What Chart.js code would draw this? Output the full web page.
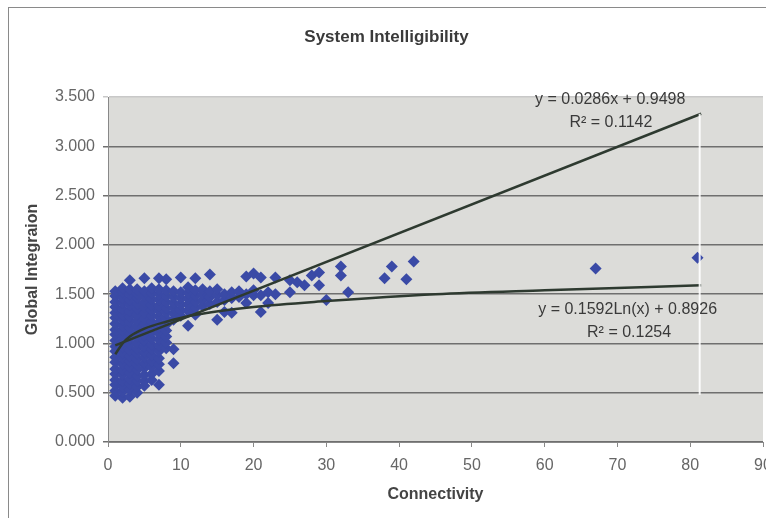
<!DOCTYPE html>
<html lang="en">
<head>
    <meta charset="UTF-8">
    <title>System Intelligibility</title>
    <style>
        body {
            margin: 0;
            padding: 0;
            background-color: #fff;
            overflow: hidden;
            width: 766px;
            height: 518px;
        }
        #chart-wrap {
            width: 790px;
            height: 518px;
        }
    </style>
</head>
<body>

<div id="chart-wrap">
    <canvas id="siChart" width="790" height="518"></canvas>
</div>

<script src="https://cdn.jsdelivr.net/npm/chart.js"></script>
<script>
// connectivity values (x) and the global integration readings (y) at each one
const connectivity = [1, 2, 3, 4, 5, 6, 7, 8, 9, 10, 11, 12, 13, 14, 15, 16, 17, 18, 19, 20,
    21, 22, 23, 25, 26, 27, 28, 29, 30, 32, 33, 38, 39, 41, 42, 67, 81];
const integration = [
    [0.47, 0.52, 0.58, 0.63, 0.69, 0.74, 0.81, 0.86, 0.92, 0.97, 1.03, 1.09, 1.14, 1.20, 1.26, 1.31, 1.37, 1.42, 1.48, 1.53],
    [0.45, 0.51, 0.56, 0.62, 0.68, 0.73, 0.79, 0.85, 0.90, 0.96, 1.01, 1.07, 1.13, 1.18, 1.24, 1.29, 1.35, 1.41, 1.46, 1.52, 1.56],
    [0.46, 0.53, 0.59, 0.64, 0.70, 0.76, 0.82, 0.87, 0.93, 0.99, 1.05, 1.10, 1.16, 1.22, 1.27, 1.33, 1.39, 1.44, 1.50, 1.55, 1.64],
    [0.50, 0.56, 0.62, 0.67, 0.73, 0.79, 0.84, 0.90, 0.95, 1.01, 1.07, 1.12, 1.18, 1.23, 1.29, 1.35, 1.40, 1.46, 1.51, 1.55],
    [0.57, 0.62, 0.68, 0.75, 0.80, 0.86, 0.91, 0.97, 1.03, 1.08, 1.14, 1.20, 1.25, 1.31, 1.37, 1.42, 1.48, 1.53, 1.66],
    [0.63, 0.69, 0.76, 0.82, 0.88, 0.94, 0.99, 1.05, 1.11, 1.17, 1.22, 1.28, 1.34, 1.39, 1.45, 1.51, 1.56],
    [0.58, 0.72, 0.79, 0.85, 0.92, 0.98, 1.04, 1.10, 1.16, 1.21, 1.27, 1.33, 1.38, 1.44, 1.50, 1.55, 1.66],
    [0.95, 1.01, 1.07, 1.13, 1.19, 1.25, 1.31, 1.36, 1.42, 1.48, 1.54, 1.65],
    [0.80, 0.94, 1.24, 1.30, 1.36, 1.41, 1.47, 1.53],
    [1.28, 1.34, 1.40, 1.46, 1.52, 1.67],
    [1.18, 1.33, 1.39, 1.45, 1.51, 1.57],
    [1.29, 1.36, 1.42, 1.48, 1.54, 1.66],
    [1.38, 1.44, 1.50, 1.55],
    [1.40, 1.47, 1.53, 1.70],
    [1.24, 1.42, 1.49, 1.55],
    [1.32, 1.44, 1.50],
    [1.31, 1.46, 1.52],
    [1.47, 1.53],
    [1.41, 1.50, 1.68],
    [1.49, 1.54, 1.71],
    [1.32, 1.49, 1.67],
    [1.41, 1.52],
    [1.50, 1.67],
    [1.64, 1.52],
    [1.62],
    [1.59],
    [1.69],
    [1.72, 1.59],
    [1.44],
    [1.78, 1.69],
    [1.52],
    [1.66],
    [1.78],
    [1.65],
    [1.83],
    [1.76],
    [1.87]
];

// trend lines
const linearX = [1, 81.5];
const linearY = [0.98, 3.33];
const logX = [1, 2, 3, 5, 8, 12, 20, 30, 45, 60, 81.5];
const logY = [0.89, 1.00, 1.07, 1.15, 1.22, 1.29, 1.37, 1.43, 1.50, 1.54, 1.59];

const xTicks = [0, 10, 20, 30, 40, 50, 60, 70, 80, 90];
const yTicks = [0, 0.5, 1.0, 1.5, 2.0, 2.5, 3.0, 3.5];

// trendline labels: text and where they sit (data units)
const labelTexts = ['y = 0.0286x + 0.9498', 'R\u00B2 = 0.1142', 'y = 0.1592Ln(x) + 0.8926', 'R\u00B2 = 0.1254'];
const labelX = [69.0, 69.1, 71.4, 71.6];
const labelY = [3.47, 3.24, 1.34, 1.105];

const scatterPoints = [];
connectivity.forEach((c, i) => {
    integration[i].forEach(v => scatterPoints.push({ x: c, y: v }));
});

const toPoints = (xs, ys) => xs.map((x, i) => ({ x: x, y: ys[i] }));

const FONT = '"Liberation Sans", Arial, sans-serif';

const frameAndLabels = {
    id: 'frameAndLabels',
    beforeDraw(chart) {
        const ctx = chart.ctx;
        const a = chart.chartArea;
        ctx.save();
        ctx.fillStyle = '#fff';
        ctx.fillRect(0, 0, chart.width, chart.height);
        ctx.strokeStyle = '#8a8a8a';
        ctx.lineWidth = 1;
        ctx.strokeRect(8.5, 7.5, chart.width + 20, chart.height + 20);
        ctx.fillStyle = '#dcdcd9';
        ctx.fillRect(a.left, a.top, a.right - a.left, a.bottom - a.top);
        ctx.restore();
    },
    afterDatasetsDraw(chart) {
        const ctx = chart.ctx;
        const xs = chart.scales.x;
        const ys = chart.scales.y;
        ctx.save();
        // light streak near the end of the trend lines
        ctx.strokeStyle = 'rgba(255,255,255,0.9)';
        ctx.lineWidth = 2;
        ctx.beginPath();
        ctx.moveTo(xs.getPixelForValue(81.3), ys.getPixelForValue(3.33));
        ctx.lineTo(xs.getPixelForValue(81.3), ys.getPixelForValue(0.48));
        ctx.stroke();

        ctx.fillStyle = '#3a3a3a';
        ctx.font = '16px ' + FONT;
        ctx.textAlign = 'center';
        ctx.textBaseline = 'middle';
        labelTexts.forEach((t, i) => {
            ctx.fillText(t, xs.getPixelForValue(labelX[i]), ys.getPixelForValue(labelY[i]));
        });
        ctx.restore();
    }
};

const ctx = document.getElementById('siChart').getContext('2d');
new Chart(ctx, {
    type: 'scatter',
    data: {
        datasets: [
            {
                label: 'Global Integration',
                data: scatterPoints,
                pointStyle: 'rectRot',
                pointRadius: 6,
                pointBackgroundColor: '#3a4aa6',
                pointBorderWidth: 0,
                order: 2,
            },
            {
                label: 'Linear',
                type: 'line',
                data: toPoints(linearX, linearY),
                borderColor: '#2e3a30',
                borderWidth: 2.5,
                pointRadius: 0,
                fill: false,
                order: 1,
            },
            {
                label: 'Log',
                type: 'line',
                data: toPoints(logX, logY),
                borderColor: '#2e3a30',
                borderWidth: 2.5,
                pointRadius: 0,
                cubicInterpolationMode: 'monotone',
                fill: false,
                order: 1,
            },
        ],
    },
    options: {
        responsive: false,
        animation: false,
        layout: {
            padding: { left: 10, right: 27, top: 0, bottom: 0 },
        },
        plugins: {
            legend: { display: false },
            tooltip: { enabled: false },
            title: {
                display: true,
                text: 'System Intelligibility',
                color: '#3a3a3a',
                font: { family: FONT, size: 17, weight: 'bold' },
                padding: { top: 27, bottom: 49.6 },
            },
        },
        scales: {
            x: {
                type: 'linear',
                min: 0,
                max: 90,
                afterBuildTicks: scale => { scale.ticks = xTicks.map(v => ({ value: v })); },
                afterFit: scale => { scale.height = 76; },
                ticks: {
                    color: '#666',
                    padding: 9,
                    font: { family: FONT, size: 16 },
                },
                grid: {
                    drawOnChartArea: false,
                    drawTicks: true,
                    tickLength: 5,
                    color: '#888',
                },
                border: { color: '#888', width: 1 },
                title: {
                    display: true,
                    text: 'Connectivity',
                    color: '#444',
                    font: { family: FONT, size: 16, weight: 'bold' },
                    padding: { top: 0, bottom: 14 },
                },
            },
            y: {
                min: 0,
                max: 3.5,
                afterBuildTicks: scale => { scale.ticks = yTicks.map(v => ({ value: v })); },
                afterFit: scale => { scale.width = 98; },
                ticks: {
                    color: '#666',
                    padding: 8,
                    font: { family: FONT, size: 16 },
                    callback: v => Number(v).toFixed(3),
                },
                grid: {
                    color: c => (c.tick && c.tick.value === 3.5 ? '#c8c8c8' : '#6f6f6f'),
                    lineWidth: 1.5,
                    tickLength: 5,
                },
                border: { color: '#888', width: 1 },
                title: {
                    display: true,
                    text: 'Global Integraion',
                    color: '#444',
                    font: { family: FONT, size: 16, weight: 'bold' },
                    padding: { top: 13, bottom: 0 },
                },
            },
        },
    },
    plugins: [frameAndLabels],
});
</script>

</body>
</html>
